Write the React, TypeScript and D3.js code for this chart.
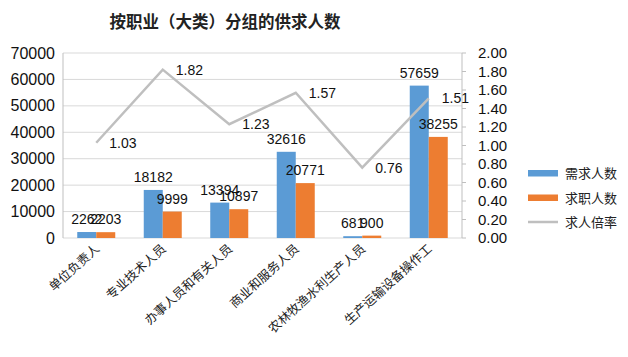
import React from "react";
import * as d3 from "d3";

const categories = ["单位负责人", "专业技术人员", "办事人员和有关人员", "商业和服务人员", "农林牧渔水利生产人员", "生产运输设备操作工"];
const demand = [2262, 18182, 13394, 32616, 681, 57659];
const supply = [2203, 9999, 10897, 20771, 900, 38255];
const ratio = [1.03, 1.82, 1.23, 1.57, 0.76, 1.51];
const leftTicks = [0, 10000, 20000, 30000, 40000, 50000, 60000, 70000];
const rightTicks = [0, 0.2, 0.4, 0.6, 0.8, 1.0, 1.2, 1.4, 1.6, 1.8, 2.0];
const seriesNames = ["需求人数", "求职人数", "求人倍率"];

const W = 628, H = 357;
const left = 63, right = 462, top = 53, bottom = 238;
const BLUE = "#5b9bd5", ORANGE = "#ed7d31", GRAY = "#bfbfbf";
const FONT = "'Liberation Sans', Arial, sans-serif";
const CJK = "'Noto Sans CJK SC', sans-serif";

export default function App() {
  const x = d3.scaleBand<string>().domain(categories).range([left, right]);
  const y = d3.scaleLinear().domain([0, 70000]).range([bottom, top]);
  const y2 = d3.scaleLinear().domain([0, 2]).range([bottom, top]);
  const barW = 19;
  const cx = (c: string) => (x(c) as number) + x.bandwidth() / 2;
  const line = d3.line<number>().x((_, i) => cx(categories[i])).y((d) => y2(d));

  return (
    <svg width={W} height={H} style={{ position: "absolute", left: 0, top: 0 }}>
      <rect width={W} height={H} fill="#fff" />
      <text x={225} y={28} textAnchor="middle" fontFamily={CJK} fontSize={16.5} fontWeight="bold" fill="#222">按职业（大类）分组的供求人数</text>
      {leftTicks.map((t) => (
        <g key={t}>
          <line x1={left} x2={right} y1={y(t)} y2={y(t)} stroke="#d9d9d9" strokeWidth={1} />
          <text x={55} y={y(t) + 5.5} textAnchor="end" fontFamily={FONT} fontSize={16} fill="#111">{t}</text>
        </g>
      ))}
      <line x1={left} x2={left} y1={top} y2={bottom} stroke="#bfbfbf" />
      <line x1={right} x2={right} y1={top} y2={bottom} stroke="#bfbfbf" />
      {rightTicks.map((t) => (
        <g key={t}>
          <line x1={right} x2={right + 4} y1={y2(t)} y2={y2(t)} stroke="#bfbfbf" />
          <text x={478} y={y2(t) + 5} fontFamily={FONT} fontSize={15} fill="#111">{t.toFixed(2)}</text>
        </g>
      ))}
      {categories.map((c, i) => (
        <g key={c}>
          <rect x={cx(c) - barW} y={y(demand[i])} width={barW} height={bottom - y(demand[i])} fill={BLUE} />
          <rect x={cx(c)} y={y(supply[i])} width={barW} height={bottom - y(supply[i])} fill={ORANGE} />
        </g>
      ))}
      <path d={line(ratio) as string} fill="none" stroke={GRAY} strokeWidth={2.5} />
      {categories.map((c, i) => (
        <g key={"l" + c}>
          <text x={cx(c) - barW / 2} y={y(demand[i]) - 8} textAnchor="middle" fontFamily={FONT} fontSize={14} fill="#111">{demand[i]}</text>
          <text x={cx(c) + barW / 2} y={y(supply[i]) - 8} textAnchor="middle" fontFamily={FONT} fontSize={14} fill="#111">{supply[i]}</text>
          <text x={cx(c) + 13} y={y2(ratio[i]) + 5} fontFamily={FONT} fontSize={14} fill="#111">{ratio[i].toFixed(2)}</text>
          <text transform={`translate(${cx(c) + 4},${250}) rotate(-42)`} textAnchor="end" fontFamily={CJK} fontSize={12.5} fill="#222">{c}</text>
        </g>
      ))}
      {seriesNames.map((s, i) => (
        <g key={s}>
          {i < 2 ? (
            <rect x={528} y={173 + i * 24.5 - 3} width={30} height={6.5} fill={i === 0 ? BLUE : ORANGE} />
          ) : (
            <line x1={528} x2={558} y1={222} y2={222} stroke={GRAY} strokeWidth={2.5} />
          )}
          <text x={565} y={173 + i * 24.5 + 5} fontFamily={CJK} fontSize={13} fill="#222">{s}</text>
        </g>
      ))}
    </svg>
  );
}
